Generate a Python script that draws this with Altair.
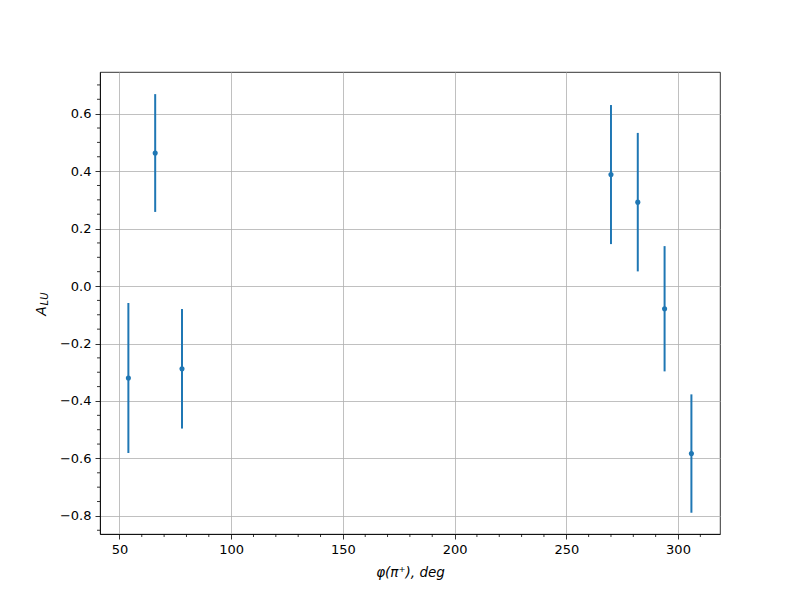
import altair as alt
import pandas as pd

phi = [54, 66, 78, 270, 282, 294, 306]
alu = [-0.320, 0.463, -0.288, 0.388, 0.292, -0.079, -0.583]
err = [0.261, 0.205, 0.208, 0.242, 0.241, 0.218, 0.206]

x_major = [50, 100, 150, 200, 250, 300]
x_minor = [60, 70, 80, 90, 110, 120, 130, 140, 160, 170, 180, 190,
           210, 220, 230, 240, 260, 270, 280, 290, 310]
y_major = [-0.8, -0.6, -0.4, -0.2, 0.0, 0.2, 0.4, 0.6]
y_minor = [-0.85, -0.75, -0.7, -0.65, -0.55, -0.5, -0.45, -0.35, -0.3, -0.25,
           -0.15, -0.1, -0.05, 0.05, 0.1, 0.15, 0.25, 0.3, 0.35, 0.45, 0.5, 0.55,
           0.65, 0.7]

df = pd.DataFrame({"phi": phi, "alu": alu, "err": err})
df["lo"] = df["alu"] - df["err"]
df["hi"] = df["alu"] + df["err"]

blue = "#1f77b4"
font = "DejaVu Sans"
W, H = 620, 462

xscale = alt.Scale(domain=[41.3, 318.8], nice=False, zero=False)
yscale = alt.Scale(domain=[-0.863, 0.745], nice=False, zero=False)

common = dict(
    labelFont=font, labelFontSize=13, labelColor="black", labelPadding=4,
    grid=True, gridColor="#b0b0b0", gridWidth=0.8,
    tickColor="black", tickWidth=0.8, tickSize=5,
    domainColor="black", domainWidth=0.8,
    labelFlush=False, labelOverlap=False,
)

xaxis = alt.Axis(
    values=x_major, format="d",
    title="φ(π⁺), deg",
    titleFont=font, titleFontSize=13.5, titleFontStyle="italic", titleFontWeight="normal",
    titleColor="black", titlePadding=9,
    **common,
)

yaxis = alt.Axis(values=y_major, format=".1f", title=None, **common)

base = alt.Chart(df)

bars = base.mark_rule(color=blue, strokeWidth=2).encode(
    x=alt.X("phi:Q", scale=xscale, axis=xaxis),
    y=alt.Y("lo:Q", scale=yscale, axis=yaxis),
    y2="hi:Q",
)

points = base.mark_circle(color=blue, size=26, opacity=1).encode(
    x=alt.X("phi:Q", scale=xscale),
    y=alt.Y("alu:Q", scale=yscale),
)

xminor = alt.Chart(pd.DataFrame({"v": x_minor})).mark_rule(
    color="black", strokeWidth=0.8
).encode(
    x=alt.X("v:Q", scale=xscale),
    y=alt.value(H), y2=alt.value(H + 3),
)

yminor = alt.Chart(pd.DataFrame({"v": y_minor})).mark_rule(
    color="black", strokeWidth=0.8
).encode(
    y=alt.Y("v:Q", scale=yscale),
    x=alt.value(0), x2=alt.value(-3),
)

lab_a = alt.Chart(pd.DataFrame({"t": ["A"]})).mark_text(
    angle=270, font=font, fontSize=14, fontStyle="italic", color="black",
    align="center", baseline="alphabetic",
).encode(x=alt.value(-54), y=alt.value(239), text="t:N")

lab_lu = alt.Chart(pd.DataFrame({"t": ["LU"]})).mark_text(
    angle=270, font=font, fontSize=10, fontStyle="italic", color="black",
    align="center", baseline="alphabetic",
).encode(x=alt.value(-52), y=alt.value(227), text="t:N")

chart = alt.layer(bars, points, xminor, yminor, lab_a, lab_lu).properties(
    width=W, height=H,
    autosize=alt.AutoSizeParams(type="none"),
    padding={"left": 92, "top": 64, "right": 72, "bottom": 58},
    background="white",
).configure_view(stroke="black", strokeWidth=0.8)

chart.save("out.html", embed_options={"renderer": "svg", "actions": False})
